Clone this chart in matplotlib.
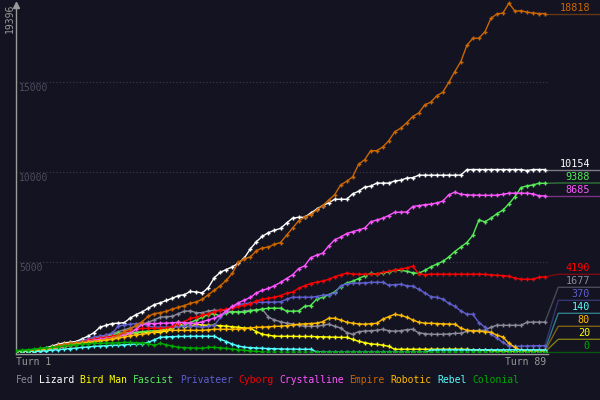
import matplotlib
matplotlib.use("Agg")
import matplotlib.pyplot as plt
from matplotlib.colors import to_rgb

turns = list(range(1, 90))

names = ["Fed", "Lizard", "Bird Man", "Fascist", "Privateer", "Cyborg",
         "Crystalline", "Empire", "Robotic", "Rebel", "Colonial"]
colors = ["#8a8a9a", "#ffffff", "#ffff00", "#55ee55", "#5f5fcf", "#ff0000",
          "#ff55ff", "#cc6600", "#ffbb00", "#55ffff", "#00aa00"]

fed = [0, 30, 60, 100, 150, 200, 260, 330, 400, 480, 560, 640, 720, 800, 880, 950, 1050, 1150, 1250, 1350,
       1450, 1550, 1670, 1800, 1950, 1980, 2000, 2150, 2280, 2300, 2200, 2200, 2300, 2330, 2330, 2330, 2250, 2220, 2300, 2330,
       2360, 2390, 1950, 1800, 1700, 1620, 1580, 1500, 1450, 1450, 1450, 1500, 1560, 1450, 1350, 1100, 1000, 1150, 1180, 1200,
       1220, 1280, 1200, 1170, 1200, 1260, 1280, 1080, 1040, 1000, 1000, 1000, 1020, 1050, 1060, 1170, 1200, 1220, 1220, 1400,
       1500, 1500, 1500, 1500, 1500, 1670, 1677, 1677, 1677]
lizard = [0, 40, 80, 120, 170, 250, 350, 450, 520, 560, 600, 750, 900, 1100, 1400, 1500, 1600, 1620, 1650, 1900,
          2100, 2250, 2450, 2650, 2750, 2880, 3000, 3150, 3200, 3380, 3350, 3300, 3600, 4150, 4450, 4600, 4750, 4950, 5250, 5750,
          6150, 6450, 6650, 6780, 6880, 7180, 7450, 7500, 7500, 7730, 7950, 8150, 8300, 8500, 8500, 8500, 8800, 8950, 9180, 9230,
          9400, 9400, 9400, 9520, 9560, 9680, 9700, 9840, 9840, 9840, 9840, 9840, 9840, 9840, 9850, 10150, 10154, 10154, 10154, 10154,
          10154, 10154, 10154, 10154, 10154, 10100, 10154, 10154, 10154]
bird_man = [0, 20, 40, 70, 110, 160, 220, 280, 340, 400, 450, 500, 560, 620, 670, 740, 800, 880, 950, 1050,
            1100, 1110, 1110, 1110, 1110, 1200, 1350, 1670, 1400, 1450, 1550, 1520, 1500, 1500, 1480, 1450, 1420, 1390, 1350, 1330,
            1150, 1000, 950, 900, 890, 890, 890, 880, 880, 880, 870, 860, 850, 840, 830, 830, 720, 610, 540, 470,
            440, 400, 330, 170, 170, 170, 170, 170, 170, 170, 170, 170, 170, 170, 170, 160, 140, 130, 120, 100,
            80, 60, 40, 30, 20, 20, 20, 20, 20]
fascist = [0, 20, 40, 70, 110, 160, 220, 290, 360, 440, 520, 600, 680, 760, 830, 900, 980, 1050, 1080, 1100,
           1110, 1150, 1180, 1200, 1220, 1300, 1390, 1450, 1500, 1650, 1800, 1950, 2100, 2150, 2000, 2200, 2250, 2250, 2220, 2300,
           2350, 2400, 2450, 2450, 2450, 2300, 2280, 2300, 2550, 2600, 2950, 3050, 3200, 3350, 3650, 3850, 3950, 4100, 4250, 4380,
           4350, 4400, 4480, 4550, 4560, 4500, 4420, 4390, 4550, 4750, 4900, 5050, 5300, 5600, 5850, 6100, 6500, 7350, 7250, 7450,
           7700, 7900, 8250, 8650, 9150, 9250, 9300, 9390, 9388]
privateer = [0, 20, 50, 80, 120, 170, 230, 300, 380, 460, 540, 620, 720, 850, 900, 950, 1060, 1450, 1520, 1560,
             1600, 1610, 1450, 1400, 1400, 1400, 1390, 1420, 1450, 1450, 1440, 1390, 1450, 1500, 1950, 2300, 2500, 2650, 2700, 2750,
             2780, 2780, 2780, 2790, 2800, 2950, 3060, 3060, 3060, 3060, 3100, 3170, 3200, 3280, 3700, 3800, 3840, 3840, 3860, 3880,
             3890, 3890, 3730, 3760, 3780, 3700, 3670, 3500, 3300, 3100, 3050, 2950, 2720, 2550, 2300, 2120, 2110, 1650, 1400, 1000,
             800, 550, 350, 330, 340, 350, 360, 370, 370]
cyborg = [0, 20, 50, 90, 130, 180, 240, 300, 380, 440, 480, 560, 670, 740, 800, 850, 890, 950, 1100, 1200,
          1280, 1330, 1330, 1330, 1330, 1340, 1450, 1600, 1700, 1880, 1950, 2060, 2150, 2250, 2340, 2400, 2450, 2550, 2610, 2700,
          2850, 2950, 3000, 3060, 3150, 3280, 3350, 3550, 3700, 3820, 3900, 3960, 4050, 4200, 4300, 4400, 4350, 4340, 4340, 4340,
          4360, 4440, 4500, 4580, 4620, 4700, 4780, 4350, 4320, 4340, 4340, 4340, 4340, 4340, 4340, 4340, 4340, 4340, 4330, 4300,
          4280, 4260, 4230, 4120, 4060, 4060, 4060, 4170, 4190]
crystalline = [0, 20, 40, 60, 90, 130, 180, 250, 320, 400, 480, 560, 620, 670, 720, 770, 820, 900, 980, 1060,
               1300, 1550, 1600, 1600, 1610, 1620, 1640, 1660, 1650, 1620, 1610, 1700, 1800, 1900, 2050, 2300, 2550, 2750, 2900, 3050,
               3300, 3450, 3550, 3700, 3880, 4100, 4300, 4650, 4800, 5250, 5400, 5500, 5900, 6250, 6400, 6600, 6700, 6800, 6900, 7250,
               7350, 7450, 7600, 7780, 7780, 7800, 8100, 8150, 8200, 8230, 8300, 8400, 8750, 8900, 8780, 8750, 8730, 8730, 8720, 8720,
               8730, 8780, 8840, 8840, 8840, 8840, 8800, 8700, 8685]
empire = [0, 30, 60, 100, 150, 200, 280, 380, 450, 500, 530, 560, 600, 620, 650, 720, 800, 950, 1150, 1300,
          1500, 1700, 2000, 2150, 2200, 2280, 2400, 2500, 2600, 2720, 2800, 2950, 3200, 3450, 3700, 4000, 4400, 5000, 5200, 5300,
          5650, 5800, 5850, 6000, 6100, 6500, 6900, 7300, 7500, 7650, 7900, 8150, 8450, 8750, 9300, 9500, 9750, 10450, 10700, 11200,
          11200, 11400, 11750, 12250, 12450, 12750, 13100, 13300, 13750, 13900, 14250, 14450, 15000, 15600, 16150, 17050, 17450, 17450, 17800, 18550,
          18800, 18850, 19396, 18950, 18980, 18900, 18850, 18820, 18818]
robotic = [0, 20, 40, 70, 110, 160, 220, 280, 340, 400, 450, 500, 550, 600, 640, 670, 720, 780, 850, 920,
           980, 1000, 1050, 1150, 1200, 1220, 1220, 1220, 1220, 1220, 1220, 1220, 1250, 1280, 1280, 1280, 1280, 1300, 1320, 1350,
           1390, 1400, 1420, 1440, 1450, 1480, 1520, 1560, 1580, 1600, 1620, 1700, 1890, 1890, 1800, 1670, 1620, 1580, 1560, 1590,
           1610, 1840, 1980, 2110, 2050, 1950, 1800, 1670, 1620, 1610, 1600, 1580, 1570, 1560, 1350, 1220, 1200, 1170, 1140, 1110,
           950, 850, 500, 280, 110, 90, 80, 80, 80]
rebel = [0, 10, 20, 40, 60, 90, 120, 150, 180, 210, 240, 270, 300, 330, 350, 370, 390, 400, 420, 440,
         460, 480, 550, 700, 830, 860, 870, 880, 880, 890, 890, 890, 890, 890, 720, 600, 450, 350, 280, 260,
         240, 220, 210, 200, 190, 180, 180, 170, 170, 170, 20, 10, 0, 0, 0, 0, 0, 0, 0, 0,
         0, 0, 0, 0, 0, 0, 0, 0, 0, 110, 140, 140, 140, 140, 140, 140, 140, 140, 140, 140,
         140, 140, 140, 140, 140, 140, 140, 140, 140]
colonial = [100, 120, 150, 180, 220, 250, 270, 300, 350, 390, 420, 450, 480, 500, 500, 510, 520, 530, 550, 550,
            530, 520, 480, 390, 500, 420, 350, 280, 260, 250, 230, 220, 280, 270, 250, 220, 180, 150, 110, 80,
            50, 20, 0, 0, 0, 0, 0, 0, 0, 0, 0, 0, 0, 0, 0, 0, 0, 0, 0, 0,
            0, 0, 0, 0, 0, 0, 0, 0, 0, 0, 0, 0, 0, 0, 0, 0, 0, 0, 0, 0,
            0, 0, 0, 0, 0, 0, 0, 0, 0]

series = [fed, lizard, bird_man, fascist, privateer, cyborg,
          crystalline, empire, robotic, rebel, colonial]

BG = "#131322"
MONO = "DejaVu Sans Mono"
FS = 7

# pixel geometry: turn 1 at x=16, turn 89 at x=545, value 0 at y=352.3, 5000 per 90 px
px_x = 529 / 88
px_y = 90 / 5000
xmax = 1 + 584 / px_x
ymax = 352.3 / px_y

fig = plt.figure(figsize=(6, 4), dpi=100, facecolor=BG)
ax = fig.add_axes([16 / 600, (400 - 352.3) / 400, 584 / 600, 352.3 / 400])
ax.set_facecolor(BG)
ax.set_xlim(1, xmax)
ax.set_ylim(0, ymax)
ax.axis("off")

top = max(max(s) for s in series)

# grid
for v in [5000, 10000, 15000]:
    ax.plot([1, 89.3], [v, v], color="#3e3e52", lw=0.8, linestyle=(0, (1, 2)), zorder=1)
    ax.text(1.5, v - 5.7 / px_y, str(v), color="#4c4c5e", fontsize=FS, family=MONO,
            va="center", ha="left")

# axes lines
ax.plot([1, 1], [-1.5 / px_y, top], color="#9a9a9a", lw=1, clip_on=False, zorder=2)
ax.plot([1], [top - 2 / px_y], marker="^", color="#9a9a9a", ms=4, clip_on=False, zorder=2)
ax.plot([1, 89.5], [-1.5 / px_y, -1.5 / px_y], color="#9a9a9a", lw=1, clip_on=False, zorder=2)
ax.text(1 - 6 / px_x, top, str(top), rotation=90, color="#9a9a9a", fontsize=FS, family=MONO,
        ha="center", va="top", clip_on=False)
ax.text(1, -10 / px_y, "Turn 1", color="#9a9a9a", fontsize=FS, family=MONO,
        ha="left", va="center", clip_on=False)
ax.text(89.2, -10 / px_y, "Turn 89", color="#9a9a9a", fontsize=FS, family=MONO,
        ha="right", va="center", clip_on=False)

# series
for name, col, vals in zip(names, colors, series):
    ax.plot(turns, vals, color=col, lw=1, marker="+", ms=3.5, mew=1, zorder=3)

# end labels, stacked from the bottom so they don't overlap
gap = 13 / px_y
order = sorted(range(len(series)), key=lambda i: series[i][-1])
prev = None
for i in order:
    v = series[i][-1]
    ly = v if prev is None else max(v, prev + gap)
    prev = ly
    c = to_rgb(colors[i])
    b = to_rgb(BG)
    dim = tuple(0.45 * c[k] + 0.55 * b[k] for k in range(3))
    ax.plot([89, 91.2, xmax], [v, ly, ly], color=dim, lw=1, zorder=2, clip_on=False)
    ax.text(1 + 574 / px_x, ly + 1 / px_y, str(v), color=colors[i], fontsize=7.3, family=MONO,
            ha="right", va="bottom", clip_on=False)

# legend row
cw = FS * 100 / 72 * 0.602
pos = 0
for name, col in zip(names, colors):
    fig.text((16 + pos * cw) / 600, 20 / 400, name, color=col, fontsize=FS, family=MONO,
             ha="left", va="center")
    pos += len(name) + 1

fig.savefig("out.png", dpi=100, facecolor=BG)
